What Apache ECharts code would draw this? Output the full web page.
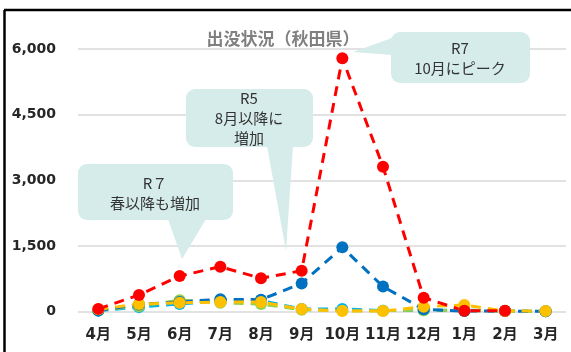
<!DOCTYPE html>
<html>
<head>
<meta charset="utf-8">
<script src="https://cdn.jsdelivr.net/npm/echarts@6/dist/echarts.min.js"></script>
<style>
  html, body { margin: 0; padding: 0; background: #fff; }
  #chart { width: 571px; height: 352px; }
</style>
</head>
<body>
<div id="chart"></div>
<script>
// Monthly bear sightings in Akita prefecture, fiscal years R3–R7
const months = ['4月', '5月', '6月', '7月', '8月', '9月', '10月', '11月', '12月', '1月', '2月', '3月'];
const yTicks = [0, 1500, 3000, 4500, 6000];

const r3 = [20, 100, 170, 250, 250, 60, 60, 20, 30, 30, 10, 5];
const r4 = [30, 120, 260, 200, 170, 40, 20, 20, 30, 20, 10, 5];
const r5 = [20, 160, 220, 280, 270, 640, 1467, 570, 50, 10, 10, 5];
const r6 = [50, 170, 200, 215, 215, 55, 10, 10, 110, 150, 10, 10];
const r7 = [60, 377, 811, 1024, 759, 933, 5787, 3310, 316, 18, 18, null];

const seriesDefs = [
  { name: 'R3', data: r3, color: '#00B0F0' },
  { name: 'R4', data: r4, color: '#92D050' },
  { name: 'R5', data: r5, color: '#0070C0' },
  { name: 'R6', data: r6, color: '#FFC000' },
  { name: 'R7', data: r7, color: '#FF0000' }
];

const calloutFill = '#d5ecea';
const calloutText = {
  fill: '#333',
  font: '15px "Noto Sans CJK JP"',
  align: 'center',
  verticalAlign: 'middle',
  lineHeight: 20
};

function callout(rect, pointer, lines, cx, cy) {
  return [
    { type: 'polygon', shape: { points: pointer }, style: { fill: calloutFill }, z: 1 },
    { type: 'rect', shape: Object.assign({ r: 9 }, rect), style: { fill: calloutFill }, z: 1 },
    {
      type: 'text', x: cx, y: cy, z: 2,
      style: Object.assign({ text: lines.join('\n') }, calloutText)
    }
  ];
}

const chart = echarts.init(document.getElementById('chart'), null, { renderer: 'canvas' });

chart.setOption({
  animation: false,
  backgroundColor: '#fff',
  grid: { left: 78, right: 5, top: 49, bottom: 40.5, containLabel: false },
  xAxis: {
    type: 'category',
    data: months,
    boundaryGap: true,
    axisLine: { show: false },
    axisTick: { show: false },
    axisLabel: {
      color: '#262626',
      fontWeight: 'bold',
      fontSize: 15,
      fontFamily: '"DejaVu Sans", "Noto Sans CJK JP"',
      margin: 16,
      interval: 0
    }
  },
  yAxis: {
    type: 'value',
    min: yTicks[0],
    max: yTicks[yTicks.length - 1],
    interval: 1500,
    axisLine: { show: false },
    axisTick: { show: false },
    splitLine: { lineStyle: { color: '#d9d9d9', width: 1.5 } },
    axisLabel: {
      color: '#262626',
      fontWeight: 'bold',
      fontSize: 14,
      fontFamily: '"DejaVu Sans"',
      margin: 22,
      formatter: v => v.toLocaleString('en-US')
    }
  },
  series: seriesDefs.map(s => ({
    name: s.name,
    type: 'line',
    data: s.data,
    symbol: 'circle',
    symbolSize: 12,
    itemStyle: { color: s.color },
    lineStyle: { color: s.color, width: 3, type: [10, 7] },
    emphasis: { disabled: true }
  })),
  graphic: [
    // frame edges
    { type: 'line', shape: { x1: 4, y1: 10, x2: 571, y2: 10 }, style: { stroke: '#000', lineWidth: 2.5 }, z: 10 },
    { type: 'line', shape: { x1: 4.5, y1: 10, x2: 4.5, y2: 352 }, style: { stroke: '#000', lineWidth: 2.5 }, z: 10 },
    // title
    {
      type: 'text', x: 283, y: 39, z: 3,
      style: {
        text: '出没状況（秋田県）',
        fill: '#808080',
        font: 'bold 17px "Noto Sans CJK JP"',
        align: 'center',
        verticalAlign: 'middle'
      }
    },
    ...callout({ x: 186, y: 89, width: 127, height: 58 },
      [[267, 146], [293, 146], [286, 251]],
      ['R5', '8月以降に', '増加'], 249, 118),
    ...callout({ x: 78, y: 164, width: 155, height: 56 },
      [[168, 219], [206, 219], [182, 259]],
      ['R７', '春以降も増加'], 155, 193),
    ...callout({ x: 391, y: 32, width: 139, height: 51 },
      [[392, 38], [353, 52], [392, 55]],
      ['R7', '10月にピーク'], 460, 58)
  ]
});
</script>
</body>
</html>
